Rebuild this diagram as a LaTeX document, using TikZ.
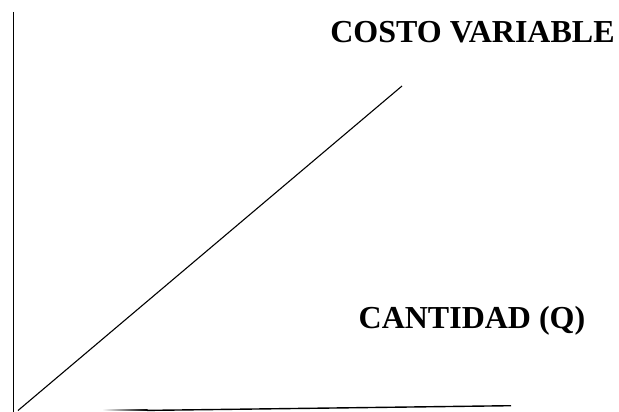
\documentclass[tikz,border=0pt]{standalone}
\usepackage{fontspec}
\setmainfont{Liberation Serif}

\begin{document}
\begin{tikzpicture}[x=1pt, y=-1pt]
	\def \fs{32}
	\useasboundingbox (0,0) rectangle (619,412);
	
	
	\coordinate (top) at (13.5,12);
	\coordinate (origin) at (13.5,412);
	\coordinate (start) at (18,410.5);
	\coordinate (end) at (402,86);
	\coordinate (qleft) at (147,410.4);
	\coordinate (qright) at (511,405.7);
	
	\draw[black, line width=1.6] (top) -- (origin); 
	\draw[black, line width=1.1] (start) -- (end); 
	\shade[left color=white, right color=black] (102,409.9) rectangle (147.5,410.9);
	\draw[black, line width=1.4] (qleft) -- (qright); 
	
	
	\node[anchor=base, inner sep=0] (costo) at (472.5,43) {\fontsize{\fs}{38}\selectfont\bfseries COSTO VARIABLE};
	\node[anchor=base, inner sep=0] (cantidad) at (472,328) {\fontsize{\fs}{38}\selectfont\bfseries CANTIDAD (Q)};
	
\end{tikzpicture}
\end{document}
